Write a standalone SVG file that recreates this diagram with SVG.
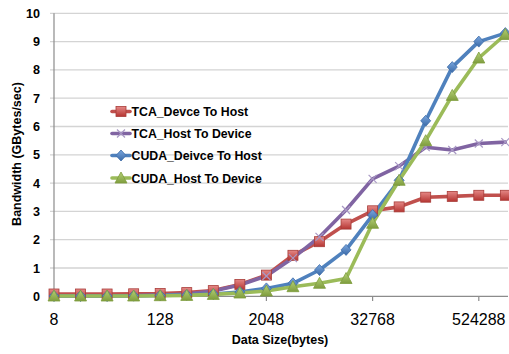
<svg xmlns="http://www.w3.org/2000/svg" width="509" height="354" viewBox="0 0 509 354">
<style>
.grid{stroke:#d4d4d4;stroke-width:1.3;fill:none}
.axis{stroke:#8c8c8c;stroke-width:1.2;fill:none}
.ylab{font-family:"Liberation Sans",Arial,sans-serif;font-weight:bold;font-size:12.6px;fill:#000;text-anchor:end}
.xlab{font-family:"Liberation Sans",Arial,sans-serif;font-size:16px;fill:#000;text-anchor:middle}
.title{font-family:"Liberation Sans",Arial,sans-serif;font-weight:bold;font-size:12.5px;fill:#000;text-anchor:middle}
.leg{font-family:"Liberation Sans",Arial,sans-serif;font-weight:bold;font-size:12.3px;fill:#000}
.line{fill:none;stroke-width:3.6;stroke-linejoin:round;stroke-linecap:round}
.red{stroke:#c0504d}
.purple{stroke:#8064a2}
.blue{stroke:#4f81bd}
.green{stroke:#9bbb59}
</style>
<defs>
<linearGradient id="gr" x1="0" y1="0" x2="0" y2="1"><stop offset="0" stop-color="#e58886"/><stop offset="1" stop-color="#b53532"/></linearGradient>
<linearGradient id="gb" x1="0" y1="0" x2="0" y2="1"><stop offset="0" stop-color="#7aa6de"/><stop offset="1" stop-color="#3a6aa8"/></linearGradient>
<linearGradient id="gg" x1="0" y1="0" x2="0" y2="1"><stop offset="0" stop-color="#b4d176"/><stop offset="1" stop-color="#7f9d3e"/></linearGradient>
<rect id="sq" x="-5" y="-5" width="10" height="10" fill="url(#gr)" stroke="#a83c39" stroke-width="0.8"/>
<path id="dm" d="M0,-5.5 L5,0 L0,5.5 L-5,0 Z" fill="url(#gb)" stroke="#3d6ca8" stroke-width="0.8"/>
<path id="tr" d="M0,-6 L6,5 L-6,5 Z" fill="url(#gg)" stroke="#7f9d3e" stroke-width="0.8"/>
<path id="xm" d="M-4,-4 L4,4 M-4,4 L4,-4" stroke="#a898c4" stroke-width="1.2" fill="none"/>
</defs>
<rect width="509" height="354" fill="#fff"/>

<g id="grid">
<path class="grid" d="M50,268.0H508 M50,239.7H508 M50,211.4H508 M50,183.1H508 M50,154.8H508 M50,126.5H508 M50,98.2H508 M50,69.9H508 M50,41.6H508 M50,13.3H508"/>
<path class="axis" d="M54,13.3V296.3 M50,296.3H508 M54,296.3V301 M160.2,296.3V301 M266.4,296.3V301 M372.6,296.3V301 M478.8,296.3V301"/>
</g>

<g id="y-labels">
<text class="ylab" x="40" y="300.8">0</text>
<text class="ylab" x="40" y="272.5">1</text>
<text class="ylab" x="40" y="244.2">2</text>
<text class="ylab" x="40" y="215.9">3</text>
<text class="ylab" x="40" y="187.6">4</text>
<text class="ylab" x="40" y="159.3">5</text>
<text class="ylab" x="40" y="131.0">6</text>
<text class="ylab" x="40" y="102.7">7</text>
<text class="ylab" x="40" y="74.4">8</text>
<text class="ylab" x="40" y="46.1">9</text>
<text class="ylab" x="40" y="17.8">10</text>
</g>
<g id="x-labels">
<text class="xlab" x="54" y="325">8</text>
<text class="xlab" x="160.2" y="325">128</text>
<text class="xlab" x="266.4" y="325">2048</text>
<text class="xlab" x="372.6" y="325">32768</text>
<text class="xlab" x="478.8" y="325">524288</text>
</g>
<text id="x-title" class="title" x="280" y="344">Data Size(bytes)</text>
<text id="y-title" class="title" transform="translate(21,154) rotate(-90)">Bandwidth (GBytes/sec)</text>

<g id="connectors">
<polyline id="s-red" class="line red" points="54,294.0 80.55,294.0 107.1,294.0 133.65,293.8 160.2,293.5 186.75,292.6 213.3,290.6 239.85,284.4 266.4,275.1 292.95,255.3 319.5,241.7 346.05,224.1 372.6,210.8 399.15,206.9 425.7,197.2 452.25,196.4 478.8,195.3 505.35,195.3"/>
<polyline id="s-purple" class="line purple" points="54,296.0 80.55,296.0 107.1,296.0 133.65,295.7 160.2,295.2 186.75,294.0 213.3,291.0 239.85,285.0 266.4,276.0 292.95,258.1 319.5,236.9 346.05,210.0 372.6,178.9 399.15,166.1 425.7,147.2 452.25,150.0 478.8,143.5 505.35,142.1"/>
<polyline id="s-blue" class="line blue" points="54,296.0 80.55,296.0 107.1,296.0 133.65,295.7 160.2,295.4 186.75,294.9 213.3,294.0 239.85,292.1 266.4,288.4 292.95,283.3 319.5,270.0 346.05,249.9 372.6,215.1 399.15,180.3 425.7,120.8 452.25,67.1 478.8,41.6 505.35,33.1"/>
<polyline id="s-green" class="line green" points="54,296.0 80.55,296.0 107.1,296.0 133.65,296.0 160.2,295.7 186.75,295.4 213.3,294.4 239.85,293.0 266.4,291.0 292.95,286.7 319.5,283.3 346.05,278.5 372.6,223.3 399.15,180.3 425.7,140.7 452.25,95.4 478.8,58.0 505.35,34.5"/>
</g>

<g id="markers-red">
<use href="#sq" x="54" y="294.0"/><use href="#sq" x="80.55" y="294.0"/><use href="#sq" x="107.1" y="294.0"/><use href="#sq" x="133.65" y="293.8"/><use href="#sq" x="160.2" y="293.5"/><use href="#sq" x="186.75" y="292.6"/><use href="#sq" x="213.3" y="290.6"/><use href="#sq" x="239.85" y="284.4"/><use href="#sq" x="266.4" y="275.1"/><use href="#sq" x="292.95" y="255.3"/><use href="#sq" x="319.5" y="241.7"/><use href="#sq" x="346.05" y="224.1"/><use href="#sq" x="372.6" y="210.8"/><use href="#sq" x="399.15" y="206.9"/><use href="#sq" x="425.7" y="197.2"/><use href="#sq" x="452.25" y="196.4"/><use href="#sq" x="478.8" y="195.3"/><use href="#sq" x="505.35" y="195.3"/>
</g>
<g id="markers-purple">
<use href="#xm" x="266.4" y="276.0"/><use href="#xm" x="292.95" y="258.1"/><use href="#xm" x="319.5" y="236.9"/><use href="#xm" x="346.05" y="210.0"/><use href="#xm" x="372.6" y="178.9"/><use href="#xm" x="399.15" y="166.1"/><use href="#xm" x="425.7" y="147.2"/><use href="#xm" x="452.25" y="150.0"/><use href="#xm" x="478.8" y="143.5"/><use href="#xm" x="505.35" y="142.1"/>
</g>
<g id="markers-blue">
<use href="#dm" x="54" y="296.0"/><use href="#dm" x="80.55" y="296.0"/><use href="#dm" x="107.1" y="296.0"/><use href="#dm" x="133.65" y="295.7"/><use href="#dm" x="160.2" y="295.4"/><use href="#dm" x="186.75" y="294.9"/><use href="#dm" x="213.3" y="294.0"/><use href="#dm" x="239.85" y="292.1"/><use href="#dm" x="266.4" y="288.4"/><use href="#dm" x="292.95" y="283.3"/><use href="#dm" x="319.5" y="270.0"/><use href="#dm" x="346.05" y="249.9"/><use href="#dm" x="372.6" y="215.1"/><use href="#dm" x="399.15" y="180.3"/><use href="#dm" x="425.7" y="120.8"/><use href="#dm" x="452.25" y="67.1"/><use href="#dm" x="478.8" y="41.6"/><use href="#dm" x="505.35" y="33.1"/>
</g>
<g id="markers-green">
<use href="#tr" x="54" y="296.0"/><use href="#tr" x="80.55" y="296.0"/><use href="#tr" x="107.1" y="296.0"/><use href="#tr" x="133.65" y="296.0"/><use href="#tr" x="160.2" y="295.7"/><use href="#tr" x="186.75" y="295.4"/><use href="#tr" x="213.3" y="294.4"/><use href="#tr" x="239.85" y="293.0"/><use href="#tr" x="266.4" y="291.0"/><use href="#tr" x="292.95" y="286.7"/><use href="#tr" x="319.5" y="283.3"/><use href="#tr" x="346.05" y="278.5"/><use href="#tr" x="372.6" y="223.3"/><use href="#tr" x="399.15" y="180.3"/><use href="#tr" x="425.7" y="140.7"/><use href="#tr" x="452.25" y="95.4"/><use href="#tr" x="478.8" y="58.0"/><use href="#tr" x="505.35" y="34.5"/>
</g>

<g id="legend">
<g id="leg-red"><path class="line red" d="M112,111.5H130"/><use href="#sq" x="121" y="111.5"/><text class="leg" x="131.5" y="116">TCA_Devce To Host</text></g>
<g id="leg-purple"><path class="line purple" d="M112,133.5H130"/><use href="#xm" x="121" y="133.5"/><text class="leg" x="131.5" y="138">TCA_Host To Device</text></g>
<g id="leg-blue"><path class="line blue" d="M112,155.5H130"/><use href="#dm" x="121" y="155.5"/><text class="leg" x="131.5" y="160">CUDA_Deivce To Host</text></g>
<g id="leg-green"><path class="line green" d="M112,178H130"/><use href="#tr" x="121" y="178"/><text class="leg" x="131.5" y="182.5">CUDA_Host To Device</text></g>
</g>
</svg>
